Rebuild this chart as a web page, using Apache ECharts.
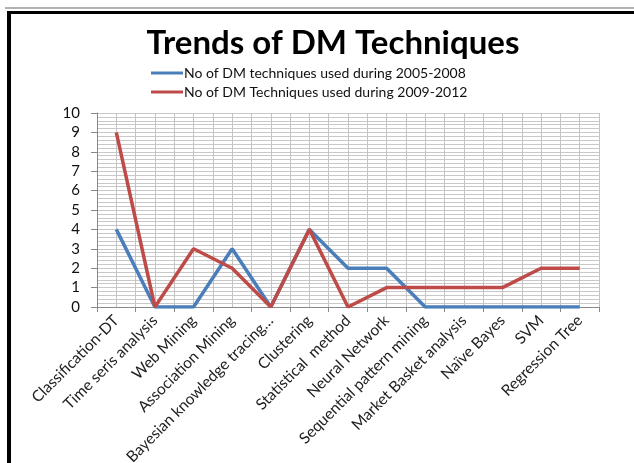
<!DOCTYPE html>
<html><head><meta charset="utf-8">
<script src="https://cdn.jsdelivr.net/npm/echarts@6/dist/echarts.min.js"></script>
<style>html,body{margin:0;padding:0;background:#fff}#c{width:634px;height:463px}</style>
</head><body><div id="c"></div>
<script>
const categories = ["Classification-DT","Time seris analysis","Web Mining","Association Mining","Bayesian knowledge tracing…","Clustering","Statistical  method","Neural Network","Sequential pattern mining","Market Basket analysis","Naïve Bayes","SVM","Regression Tree"];
const series2005 = [4,0,0,3,0,4,2,2,0,0,0,0,0];
const series2009 = [9,0,3,2,0,4,0,1,1,1,1,2,2];
const seriesNames = ["No of DM techniques used during 2005-2008","No of DM Techniques used during 2009-2012"];
const FONT = "Lato, 'Open Sans', sans-serif";
const chart = echarts.init(document.getElementById('c'), null, {renderer:'canvas'});
chart.setOption({
  animation:false,
  backgroundColor:'#fff',
  title:{text:'Trends of DM Techniques', left:328, top:22, textAlign:'center',
    textStyle:{fontFamily:FONT, fontWeight:'bold', fontSize:33, color:'#000'}},
  legend:{orient:'vertical', left:146, top:61, itemGap:5, itemWidth:32, itemHeight:3,
    icon:'rect', textStyle:{fontFamily:FONT, fontSize:14, color:'#111', padding:[0,0,0,-4]},
    data:seriesNames},
  grid:{left:97, right:35, top:113, bottom:156, containLabel:false, outerBoundsMode:'none'},
  xAxis:[{type:'category', data:categories, boundaryGap:true,
    axisLine:{lineStyle:{color:'#888'}},
    axisTick:{show:true, length:5, alignWithLabel:false, lineStyle:{color:'#888'}},
    splitLine:{show:false},
    axisLabel:{rotate:45, interval:0, margin:11, fontFamily:FONT, fontSize:15.5, color:'#222'}},
   {type:'value', min:0, max:13, interval:0.5, show:true, position:'bottom',
    axisLine:{show:false}, axisTick:{show:false}, axisLabel:{show:false},
    splitLine:{show:true, lineStyle:{color:'#c4c4c4', width:1}}}],
  yAxis:[{type:'value', min:0, max:10, interval:1,
    axisLine:{show:true, lineStyle:{color:'#888'}},
    axisTick:{show:true, length:6, lineStyle:{color:'#888'}},
    axisLabel:{fontFamily:FONT, fontSize:15, color:'#111', margin:17},
    splitLine:{show:true, lineStyle:{color:'#bdbdbd'}}},
   {type:'value', min:0, max:10, interval:0.2, position:'left',
    axisLine:{show:false}, axisTick:{show:false}, axisLabel:{show:false},
    splitLine:{show:true, lineStyle:{color:'#c8c8c8', width:1}}}],
  series:[
    {name:seriesNames[0], type:'line', data:series2005, xAxisIndex:0, yAxisIndex:0,
     symbol:'none', lineStyle:{width:3.5, color:'#4a7ebb'}, itemStyle:{color:'#4a7ebb'}, z:3},
    {name:seriesNames[1], type:'line', data:series2009, xAxisIndex:0, yAxisIndex:0,
     symbol:'none', lineStyle:{width:3.5, color:'#be4b48'}, itemStyle:{color:'#be4b48'}, z:4}
  ],
  graphic:[
    {type:'line', shape:{x1:5,y1:8,x2:634,y2:8}, style:{stroke:'#999', lineWidth:1.5}},
    {type:'line', shape:{x1:7,y1:12.5,x2:634,y2:12.5}, style:{stroke:'#000', lineWidth:3}},
    {type:'line', shape:{x1:9,y1:11,x2:9,y2:463}, style:{stroke:'#000', lineWidth:4}}
  ]
});
</script></body></html>
